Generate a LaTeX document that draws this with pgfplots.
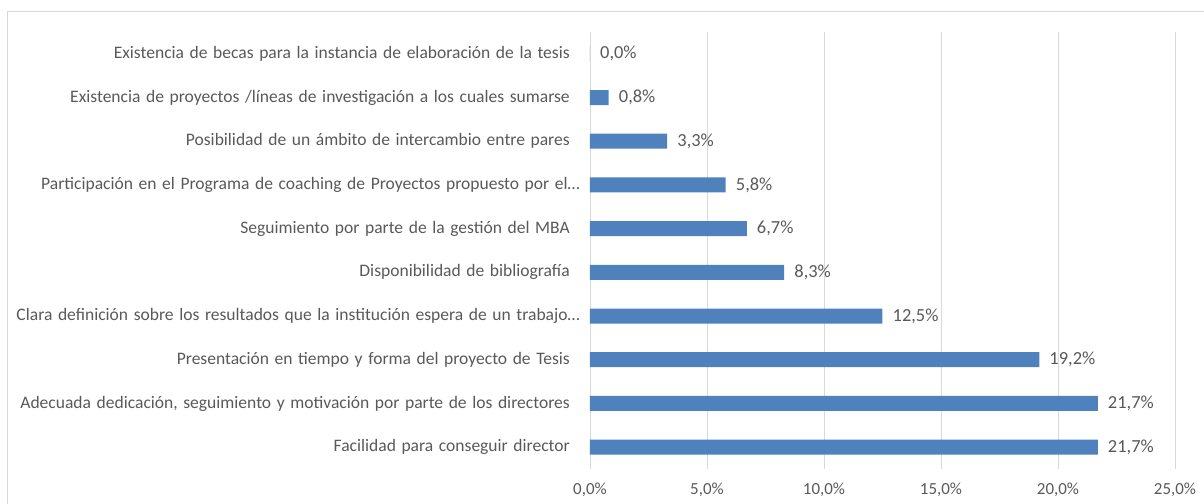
\documentclass[border=0pt]{standalone}
\usepackage{fontspec}
\setmainfont{Carlito}
\usepackage{pgfplots}
\pgfplotsset{compat=1.18}
\definecolor{barblue}{HTML}{4F81BD}
\definecolor{txt}{HTML}{595959}
\definecolor{gridc}{HTML}{D9D9D9}
\newcommand{\lblfont}{\fontsize{17.6}{20}\selectfont\spaceskip=5.6bp\relax}
\begin{document}
\begin{tikzpicture}
\useasboundingbox (-590bp,-35bp) rectangle (614bp,469bp);
\draw[gridc, line width=0.8bp] (-583bp,-60bp) rectangle (640bp,458bp);
\begin{axis}[
  at={(0,0)}, anchor=south west,
  scale only axis, width=585bp, height=437bp,
  xbar, bar width=15bp,
  xmin=0, xmax=25, ymin=-0.5, ymax=9.5,
  ytick={0,...,9},
  yticklabels={
    {Facilidad para conseguir director},
    {Adecuada dedicación, seguimiento y motivación por parte de los directores},
    {Presentación en tiempo y forma del proyecto de Tesis\ },
    {Clara definición sobre los resultados que la institución espera de un trabajo…\hspace*{-10bp}},
    {Disponibilidad de bibliografía},
    {Seguimiento por parte de la gestión del MBA},
    {Participación en el Programa de coaching de Proyectos propuesto por el…\hspace*{-10bp}},
    {Posibilidad de un ámbito de intercambio entre pares},
    {Existencia de proyectos /líneas de investigación a los cuales sumarse\ },
    {Existencia de becas para la instancia de elaboración de la tesis}},
  xtick={0,5,...,25},
  xticklabel={\pgfmathprintnumber[assume math mode=true,fixed,fixed zerofill,precision=1,use comma]{\tick}\%},
  xmajorgrids, grid style={gridc, line width=0.8bp},
  axis line style={draw=none},
  major tick length=0pt,
  yticklabel style={font=\lblfont, color=txt, anchor=east, inner sep=0pt, xshift=-20bp},
  xticklabel style={font=\fontsize{17}{19}\selectfont, color=txt, anchor=center, inner sep=0pt, yshift=-21bp},
  nodes near coords={\pgfmathprintnumber[assume math mode=true,fixed,fixed zerofill,precision=1,use comma]{\pgfplotspointmeta}\%},
  nodes near coords style={font=\fontsize{18.5}{21}\selectfont, color=txt, anchor=west, inner sep=0pt, xshift=10bp},
]
\addplot[fill=barblue, draw=none] coordinates {
  (21.7,0) (21.7,1) (19.2,2) (12.5,3) (8.3,4) (6.7,5) (5.8,6) (3.3,7) (0.8,8) (0.0,9)
};
\end{axis}
\end{tikzpicture}
\end{document}
